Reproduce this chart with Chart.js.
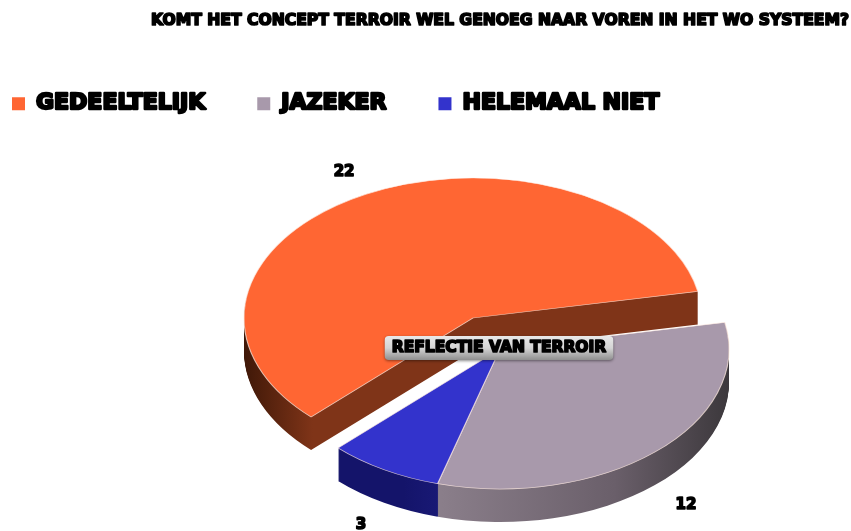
<!DOCTYPE html>
<html>
<head>
<meta charset="utf-8">
<title>Reflectie van terroir</title>
<script src="https://cdn.jsdelivr.net/npm/chart.js@4"></script>
<style>
    html, body { margin: 0; padding: 0; background: #fff; }
    #wrap { width: 851px; height: 531px; }
</style>
</head>
<body>
<div id="wrap"><canvas id="pieChart" width="851" height="531"></canvas></div>
<script>
// Chart data
const categories = ['GEDEELTELIJK', 'JAZEKER', 'HELEMAAL NIET'];
const answers = [22, 12, 3];
const chartTitle = 'KOMT HET CONCEPT TERROIR WEL GENOEG NAAR VOREN IN HET WO SYSTEEM?';
const centerLabel = 'REFLECTIE VAN TERROIR';

const topColors = ['#FF6633', '#A899AB', '#3333CC'];

// Fake 3D settings
const FONT = '"DejaVu Sans", sans-serif';
const pieRx = 229;
const pieRy = 140;
const depth = 33;
// where the orange slice and the pulled out group end up
const orangeCenter = { x: 473, y: 318 };
const groupCenter = { x: 500, y: 349 };

// Heavy black text: every fillText also gets an outline
function setupHeavyText(ctx) {
    const plainFill = ctx.fillText;
    ctx.fillText = function(text, x, y, maxWidth) {
        const size = parseFloat(this.font.match(/([\d.]+)px/)[1]);
        this.save();
        this.strokeStyle = this.fillStyle;
        this.lineWidth = size * 0.11;
        this.lineJoin = 'round';
        if (maxWidth !== undefined) {
            this.strokeText(text, x, y, maxWidth);
        } else {
            this.strokeText(text, x, y);
        }
        this.restore();
        if (maxWidth !== undefined) {
            plainFill.call(this, text, x, y, maxWidth);
        } else {
            plainFill.call(this, text, x, y);
        }
    };
}

function wallGradient(ctx, arc, stops) {
    const g = ctx.createLinearGradient(arc.x - arc.outerRadius, 0, arc.x + arc.outerRadius, 0);
    stops.forEach(s => g.addColorStop(s[0], s[1]));
    return g;
}

// Puts the context on the squashed pie plane of one slice
function onPlane(ctx, arc, center, dy, draw) {
    ctx.save();
    ctx.translate(center.x, center.y + dy);
    ctx.scale(pieRx / arc.outerRadius, pieRy / arc.outerRadius);
    ctx.translate(-arc.x, -arc.y);
    draw();
    ctx.restore();
}

function drawArcWith(ctx, arc, fill, borderWidth) {
    const original = arc.options;
    arc.options = Object.assign({}, original, {
        backgroundColor: fill,
        borderColor: 'rgba(255,235,225,0.75)',
        borderWidth: borderWidth
    });
    arc.draw(ctx);
    arc.options = original;
}

const pie3d = {
    id: 'pie3d',
    beforeDatasetsDraw(chart) {
        const ctx = chart.ctx;
        const arcs = chart.getDatasetMeta(0).data;
        const walls = [
            wallGradient(ctx, arcs[0], [[0, '#3f1808'], [0.15, '#7f3418'], [1, '#7f3418']]),
            wallGradient(ctx, arcs[1], [[0, '#8b7f8b'], [0.36, '#8b7f8b'], [0.75, '#6a5f6a'], [1, '#3c383c']]),
            wallGradient(ctx, arcs[2], [[0.29, '#14146a'], [0.51, '#22228a'], [1, '#22228a']])
        ];
        const centers = [orangeCenter, groupCenter, groupCenter];

        // orange is at the back, the other two in front of it
        [[0], [1, 2]].forEach(group => {
            for (let d = depth; d > 0; d--) {
                group.forEach(i => {
                    onPlane(ctx, arcs[i], centers[i], d, () => drawArcWith(ctx, arcs[i], walls[i], 0));
                });
            }
            group.forEach(i => {
                onPlane(ctx, arcs[i], centers[i], 0, () => drawArcWith(ctx, arcs[i], topColors[i], 1));
            });
        });
        return false; // slices are done, skip the flat ones
    },
    afterDraw(chart) {
        const ctx = chart.ctx;
        const arcs = chart.getDatasetMeta(0).data;
        const centers = [orangeCenter, groupCenter, groupCenter];

        // Value labels
        ctx.save();
        ctx.font = 'bold 15px ' + FONT;
        ctx.fillStyle = '#000';
        ctx.textAlign = 'center';
        ctx.textBaseline = 'middle';
        arcs.forEach((arc, i) => {
            const mid = (arc.startAngle + arc.endAngle) / 2;
            const x = centers[i].x + Math.cos(mid) * pieRx * 1.2;
            const sin = Math.sin(mid);
            const y = centers[i].y + sin * pieRy * 1.18 + (sin > 0 ? depth + 1 : 0);
            ctx.fillText(answers[i], x, y);
        });
        ctx.restore();

        // Label box in the middle
        ctx.save();
        ctx.font = 'bold 15.5px ' + FONT;
        const boxW = ctx.measureText(centerLabel).width + 14;
        const boxH = 24;
        const boxX = 499 - boxW / 2;
        const boxY = 336;
        const g = ctx.createLinearGradient(0, boxY, 0, boxY + boxH);
        g.addColorStop(0, '#e9e9e9');
        g.addColorStop(0.5, '#d4d4d4');
        g.addColorStop(1, '#8f8f8f');
        ctx.shadowColor = 'rgba(0,0,0,0.45)';
        ctx.shadowBlur = 3;
        ctx.shadowOffsetY = 1;
        ctx.fillStyle = g;
        ctx.beginPath();
        ctx.roundRect(boxX, boxY, boxW, boxH, 4);
        ctx.fill();
        ctx.shadowColor = 'transparent';
        ctx.fillStyle = '#000';
        ctx.textAlign = 'center';
        ctx.textBaseline = 'middle';
        ctx.fillText(centerLabel, boxX + boxW / 2, boxY + boxH / 2);
        ctx.restore();
    }
};

document.addEventListener('DOMContentLoaded', function() {
    const canvas = document.getElementById('pieChart');
    setupHeavyText(canvas.getContext('2d'));

    new Chart(canvas, {
        type: 'pie',
        data: {
            labels: categories,
            datasets: [{
                data: answers,
                backgroundColor: topColors,
                borderWidth: 0
            }]
        },
        options: {
            responsive: false,
            animation: false,
            rotation: 225,
            layout: { padding: { left: -40, right: 2 } },
            plugins: {
                title: {
                    display: true,
                    text: chartTitle,
                    align: 'end',
                    color: '#000',
                    font: { family: FONT, size: 15.6, weight: 'bold' },
                    padding: { top: 12, bottom: 10 }
                },
                legend: {
                    position: 'top',
                    align: 'start',
                    labels: {
                        color: '#000',
                        boxWidth: 13,
                        boxHeight: 13,
                        padding: 52,
                        font: { family: FONT, size: 22, weight: 'bold' }
                    }
                },
                tooltip: { enabled: false }
            }
        },
        plugins: [pie3d]
    });
});
</script>
</body>
</html>
